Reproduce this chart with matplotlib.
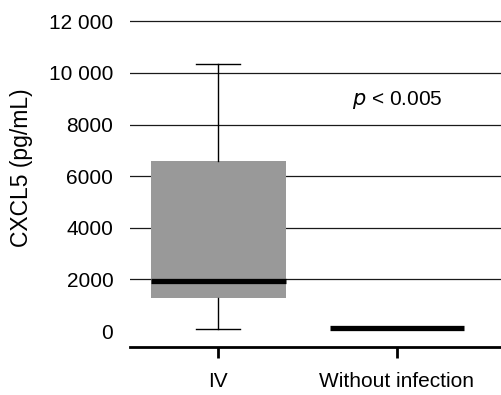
import matplotlib
matplotlib.use("Agg")
import matplotlib.pyplot as plt

plt.rcParams['font.family'] = ['Liberation Sans', 'DejaVu Sans']

# data
groups = ["IV", "Without infection"]
q1 = [1300, 120]
med = [1950, 120]
q3 = [6600, 120]
whis_lo = [100, 120]
whis_hi = [10350, 120]
yticks = [0, 2000, 4000, 6000, 8000, 10000, 12000]
ytick_labels = ["0", "2000", "4000", "6000", "8000", "10 000", "12 000"]
p_text = "$\\it{p}$ < 0.005"

stats = []
for i in range(len(groups)):
    stats.append({"label": groups[i], "q1": q1[i], "med": med[i], "q3": q3[i],
                  "whislo": whis_lo[i], "whishi": whis_hi[i], "fliers": []})

fig = plt.figure(figsize=(5.02, 3.95), dpi=100)
ax = fig.add_axes([0.259, 0.1215, 0.741, 0.8281])

# gridlines (not at zero)
for t in yticks[1:]:
    ax.axhline(t, color='#1a1a1a', lw=0.9, zorder=1)

ax.bxp(stats, positions=[1, 2], widths=0.754, patch_artist=True,
       showfliers=False,
       boxprops=dict(facecolor='#999999', edgecolor='none', linewidth=0),
       medianprops=dict(color='black', linewidth=3.8, solid_capstyle='butt'),
       whiskerprops=dict(color='black', linewidth=1.0),
       capprops=dict(color='black', linewidth=1.0),
       capwidths=0.246, zorder=2)

ax.set_xlim(0.508, 2.587)
ax.set_ylim(-614, 12050)

ax.set_yticks(yticks)
ax.set_yticklabels(ytick_labels)
ax.set_xticks([1, 2])
ax.set_xticklabels(groups)

for s in ['top', 'right', 'left']:
    ax.spines[s].set_visible(False)
ax.spines['bottom'].set_linewidth(2)
ax.tick_params(axis='y', length=0, pad=12, labelsize=15)
ax.tick_params(axis='x', length=8, width=2, pad=10, labelsize=15)

# y label placed by hand
fig.text(22 / 502, 1 - 168 / 395, "CXCL5 (pg/mL)", rotation=90,
         ha='center', va='center', fontsize=16.5)
ax.text(2, 8950, p_text, fontsize=15, ha='center', va='center')

fig.savefig("out.png", dpi=100)
